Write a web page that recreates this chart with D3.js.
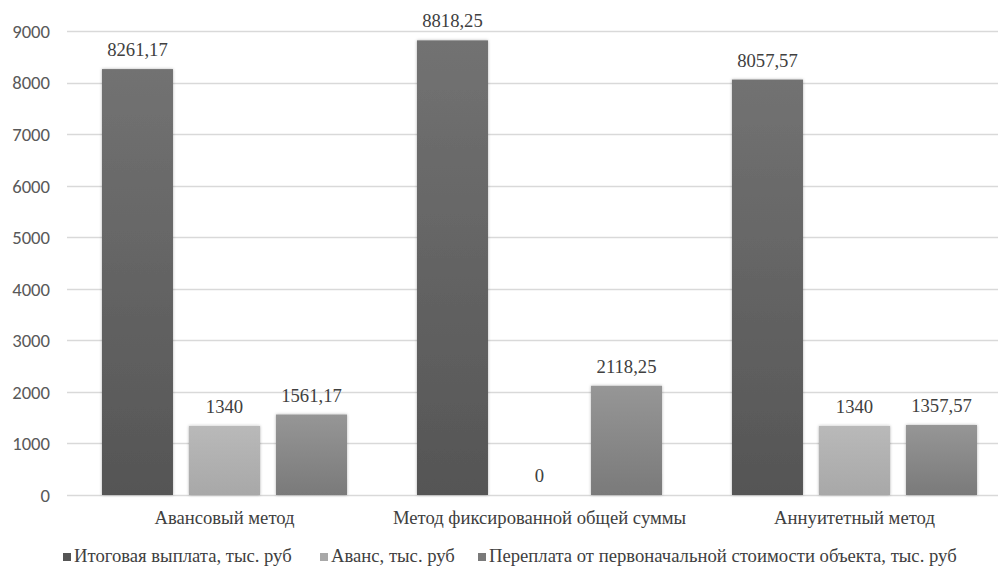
<!DOCTYPE html>
<html><head><meta charset="utf-8">
<script src="https://cdn.jsdelivr.net/npm/d3@7"></script>
<style>body{margin:0;background:#fff}svg{display:block}</style>
</head><body>
<svg id="c" width="998" height="567"></svg>
<script>
const categories = ["Авансовый метод","Метод фиксированной общей суммы","Аннуитетный метод"];
const seriesNames = ["Итоговая выплата, тыс. руб","Аванс, тыс. руб","Переплата от первоначальной стоимости объекта, тыс. руб"];
const totalPay = [8261.17, 8818.25, 8057.57];
const advance = [1340, 0, 1340];
const overpay = [1561.17, 2118.25, 1357.57];
const yTicks = [0,1000,2000,3000,4000,5000,6000,7000,8000,9000];

const SERIF = '"Liberation Serif","Times New Roman",serif';
const SANS = 'Carlito,"Liberation Sans",sans-serif';
const FS = "18.67px";

const series = [totalPay, advance, overpay];
const colTop = ["#727272","#b9b9b9","#969696"];
const colBot = ["#555555","#a8a8a8","#7a7a7a"];
const svg = d3.select("#c");
const m = {l:67, r:998, t:31, b:495};
const x0 = d3.scaleBand().domain(categories).range([67, 1012]).paddingInner(0.222).paddingOuter(0.111);
const x1 = d3.scaleBand().domain([0,1,2]).range([0, x0.bandwidth()]).paddingInner(0.184);
const y = d3.scaleLinear().domain([0,9000]).range([m.b, m.t]);

const defs = svg.append("defs");
series.forEach((s,i)=>{
  const g = defs.append("linearGradient").attr("id","g"+i).attr("x1",0).attr("y1",0).attr("x2",0).attr("y2",1);
  g.append("stop").attr("offset","0%").attr("stop-color",colTop[i]);
  g.append("stop").attr("offset","100%").attr("stop-color",colBot[i]);
});
const f = defs.append("filter").attr("id","sh").attr("x","-10%").attr("y","-10%").attr("width","120%").attr("height","120%");
f.append("feDropShadow").attr("dx",0).attr("dy",0).attr("stdDeviation",1.5).attr("flood-color","#000").attr("flood-opacity",0.3);

// gridlines
svg.append("g").selectAll("line").data(yTicks).join("line")
  .attr("x1",m.l).attr("x2",m.r).attr("y1",d=>Math.round(y(d))+0.5).attr("y2",d=>Math.round(y(d))+0.5)
  .attr("stroke","#d9d9d9").attr("stroke-width",1.5);

// y axis labels
const ya = svg.append("g").attr("transform",`translate(50,0)`)
  .call(d3.axisLeft(y).tickValues(yTicks).tickFormat(d3.format("d")).tickSize(0).tickPadding(0));
ya.select(".domain").remove();
ya.selectAll("text").style("font-family",SANS).style("font-size",FS).attr("fill","#595959").attr("dy","0.34em");

// bars
categories.forEach((c,ci)=>{
  series.forEach((s,si)=>{
    const v = s[ci];
    const bx = x0(c)+x1(si);
    if (v>0) {
      svg.append("rect").attr("x",bx).attr("y",y(v)).attr("width",x1.bandwidth()).attr("height",y(0)-y(v))
        .attr("fill",`url(#g${si})`).attr("filter","url(#sh)");
    }
    svg.append("text").attr("x",bx+x1.bandwidth()/2).attr("y",y(v)-13)
      .attr("text-anchor","middle").style("font-family",SERIF).style("font-size",FS).attr("fill","#404040")
      .text(String(v).replace(".",","));
  });
});

// x axis labels
const xa = svg.append("g").attr("transform",`translate(0,${m.b})`).call(d3.axisBottom(x0).tickSize(0).tickPadding(0));
xa.select(".domain").remove();
xa.selectAll("text").attr("dy",null).attr("y",29).style("font-family",SERIF).style("font-size",FS).attr("fill","#404040");

// legend
const lg = svg.append("g");
const legX = [63, 320, 478];
seriesNames.forEach((n,i)=>{
  lg.append("rect").attr("x",legX[i]).attr("y",553).attr("width",8).attr("height",8).attr("fill",colBot[i]);
  lg.append("text").attr("x",legX[i]+11).attr("y",562).style("font-family",SERIF).style("font-size",FS).attr("fill","#404040").text(n);
});
</script>
</body></html>
